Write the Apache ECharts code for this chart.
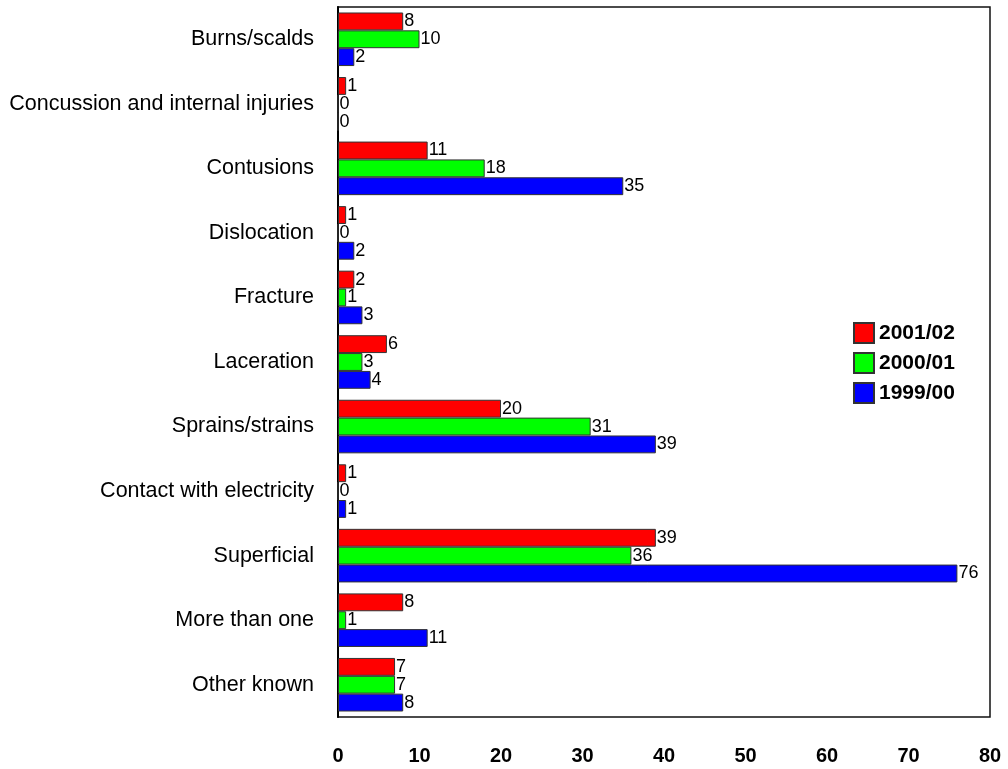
<!DOCTYPE html>
<html>
<head>
<meta charset="utf-8">
<script src="https://cdn.jsdelivr.net/npm/echarts@6/dist/echarts.min.js"></script>
<style>
  html, body { margin: 0; padding: 0; background: #fff; }
  #chart { width: 1008px; height: 769px; }
</style>
</head>
<body>
<div id="chart"></div>
<script>
// Injury types, listed top to bottom
const categories = [
  'Burns/scalds',
  'Concussion and internal injuries',
  'Contusions',
  'Dislocation',
  'Fracture',
  'Laceration',
  'Sprains/strains',
  'Contact with electricity',
  'Superficial',
  'More than one',
  'Other known'
];

// Number of injuries per year
const y2001_02 = [8, 1, 11, 1, 2, 6, 20, 1, 39, 8, 7];
const y2000_01 = [10, 0, 18, 0, 1, 3, 31, 0, 36, 1, 7];
const y1999_00 = [2, 0, 35, 2, 3, 4, 39, 1, 76, 11, 8];

const seriesNames = ['2001/02', '2000/01', '1999/00'];
const seriesColors = ['#ff0000', '#00ff00', '#0000ff'];

const xTicks = { min: 0, max: 80, interval: 10 };

const FONT = '"Liberation Sans", Arial, sans-serif';

function makeSeries(name, data, color) {
  return {
    name: name,
    type: 'bar',
    data: data,
    barCategoryGap: '17%',
    barGap: '0%',
    itemStyle: { color: color, borderColor: '#333', borderWidth: 1 },
    label: {
      show: true,
      position: 'right',
      distance: 1,
      color: '#000',
      fontFamily: FONT,
      fontSize: 18
    },
    emphasis: { disabled: true }
  };
}

const chart = echarts.init(document.getElementById('chart'), null, { renderer: 'canvas' });
chart.setOption({
  animation: false,
  backgroundColor: '#fff',
  grid: {
    left: 338, right: 18, top: 7, bottom: 52,
    show: true, borderColor: '#111', borderWidth: 1.5
  },
  legend: {
    data: seriesNames,
    orient: 'vertical',
    left: 848,
    top: 317,
    itemWidth: 20,
    itemHeight: 20,
    itemGap: 8,
    icon: 'rect',
    textStyle: { fontFamily: FONT, fontSize: 21, fontWeight: 'bold', color: '#000' }
  },
  xAxis: {
    type: 'value',
    min: xTicks.min,
    max: xTicks.max,
    interval: xTicks.interval,
    splitLine: { show: false },
    axisLine: { show: false },
    axisTick: { show: false },
    axisLabel: {
      margin: 29,
      color: '#000',
      fontFamily: FONT,
      fontSize: 20,
      fontWeight: 'bold'
    }
  },
  yAxis: {
    type: 'category',
    data: categories,
    inverse: true,
    axisLine: { show: true, lineStyle: { color: '#000', width: 2 } },
    axisTick: { show: false },
    axisLabel: {
      margin: 24,
      color: '#000',
      fontFamily: FONT,
      fontSize: 21.5
    }
  },
  series: [
    makeSeries(seriesNames[0], y2001_02, seriesColors[0]),
    makeSeries(seriesNames[1], y2000_01, seriesColors[1]),
    makeSeries(seriesNames[2], y1999_00, seriesColors[2])
  ]
});
</script>
</body>
</html>
